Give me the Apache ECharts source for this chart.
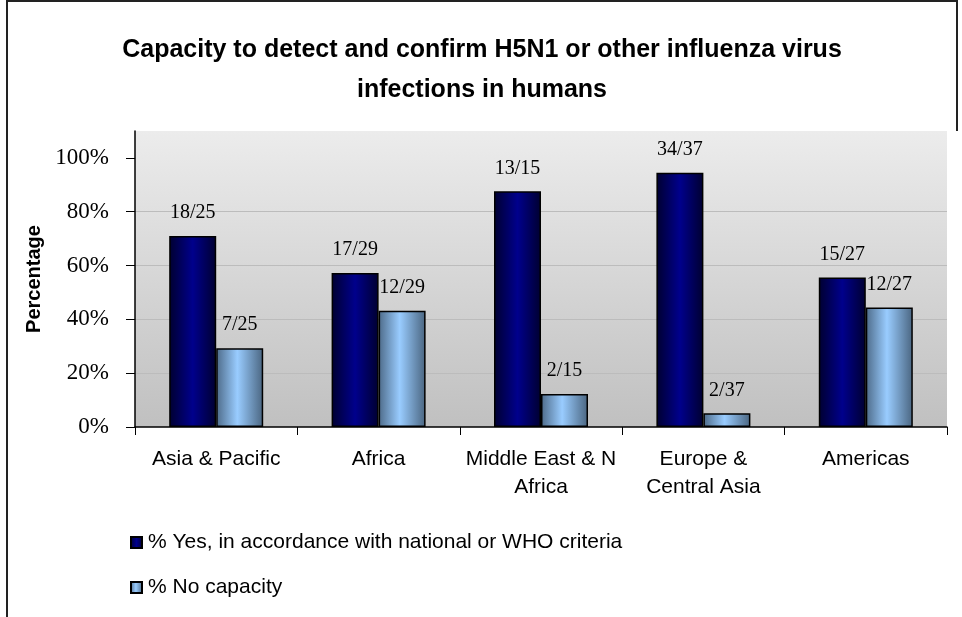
<!DOCTYPE html>
<html>
<head>
<meta charset="utf-8">
<script src="https://cdn.jsdelivr.net/npm/echarts@6/dist/echarts.min.js"></script>
<style>
  html, body { margin: 0; padding: 0; background: #fff; }
  #chart { width: 962px; height: 617px; }
</style>
</head>
<body>
<div id="chart"></div>
<script>
// regions on the x axis
const regions = ['Asia & Pacific', 'Africa', 'Middle East & N\nAfrica', 'Europe &\nCentral Asia', 'Americas']
// bar heights in percent
const yesValues = [71, 57.2, 87.6, 94.5, 55.6]
const noValues = [29.3, 43.2, 12.3, 5.1, 44.4]
// label text above each bar
const yesLabels = ['18/25', '17/29', '13/15', '34/37', '15/27']
const noLabels = ['7/25', '12/29', '2/15', '2/37', '12/27']
const yTicks = [0, 20, 40, 60, 80, 100]

const sans = 'Arial, "Liberation Sans", sans-serif'
const serif = '"Times New Roman", "Liberation Serif", serif'

const chart = echarts.init(document.getElementById('chart'))

const darkFill = new echarts.graphic.LinearGradient(0, 0, 1, 0, [
  { offset: 0, color: '#000030' },
  { offset: 0.5, color: '#00008c' },
  { offset: 1, color: '#000030' }
])
const lightFill = new echarts.graphic.LinearGradient(0, 0, 1, 0, [
  { offset: 0, color: '#4d6a88' },
  { offset: 0.45, color: '#99ccff' },
  { offset: 1, color: '#4a6580' }
])

const option = {
  backgroundColor: '#fff',
  animation: false,
  title: {
    text: 'Capacity to detect and confirm H5N1 or other influenza virus\ninfections in humans',
    left: 477,
    textAlign: 'center',
    top: 25,
    textStyle: {
      fontFamily: sans,
      fontWeight: 'bold',
      fontSize: 25,
      lineHeight: 40,
      color: '#000'
    }
  },
  legend: {
    orient: 'vertical',
    left: 125,
    top: 527,
    itemWidth: 11,
    itemHeight: 11,
    itemGap: 24,
    icon: 'rect',
    textStyle: { fontFamily: sans, fontSize: 21, color: '#000', padding: [0, 0, 0, 1] },
    data: ['% Yes, in accordance with national or WHO criteria', '% No capacity']
  },
  grid: {
    left: 135,
    right: 15,
    top: 131,
    bottom: 190,
    show: true,
    borderWidth: 0,
    backgroundColor: new echarts.graphic.LinearGradient(0, 0, 0, 1, [
      { offset: 0, color: '#ececec' },
      { offset: 1, color: '#c0c0c0' }
    ])
  },
  xAxis: {
    type: 'category',
    data: regions,
    axisLine: { lineStyle: { color: '#000', width: 1.5 } },
    axisTick: { show: true, interval: 0, length: 8, lineStyle: { color: '#000', width: 1 } },
    axisLabel: {
      interval: 0,
      fontFamily: sans,
      fontSize: 21,
      color: '#000',
      lineHeight: 28,
      margin: 18
    }
  },
  yAxis: {
    type: 'value',
    min: 0,
    max: 110,
    interval: 20,
    name: 'Percentage',
    nameLocation: 'middle',
    nameGap: 90,
    nameTextStyle: { fontFamily: sans, fontWeight: 'bold', fontSize: 20, color: '#000' },
    axisLine: { show: true, lineStyle: { color: '#000', width: 1.5 } },
    axisTick: { show: true, length: 9, customValues: yTicks, lineStyle: { color: '#000' } },
    axisLabel: {
      customValues: yTicks,
      formatter: '{value}%',
      fontFamily: serif,
      fontSize: 23,
      color: '#000',
      margin: 26
    },
    splitLine: { show: true, showMinLine: false, showMaxLine: false, lineStyle: { color: '#bcbcbc', width: 1 } }
  },
  series: [
    {
      name: '% Yes, in accordance with national or WHO criteria',
      type: 'bar',
      data: yesValues,
      barWidth: 47,
      barGap: '0%',
      itemStyle: { color: darkFill, borderColor: '#000', borderWidth: 1.5 },
      label: {
        show: true,
        position: 'top',
        distance: 13,
        fontFamily: serif,
        fontSize: 20,
        color: '#000',
        formatter: p => yesLabels[p.dataIndex]
      }
    },
    {
      name: '% No capacity',
      type: 'bar',
      data: noValues,
      barWidth: 47,
      itemStyle: { color: lightFill, borderColor: '#000', borderWidth: 1.5 },
      label: {
        show: true,
        position: 'top',
        distance: 13,
        fontFamily: serif,
        fontSize: 20,
        color: '#000',
        formatter: p => noLabels[p.dataIndex]
      }
    }
  ],
  graphic: [
    {
      type: 'polyline',
      shape: { points: [[7, 617], [7, 1], [957, 1], [957, 131]] },
      style: { stroke: '#222', lineWidth: 2, fill: null },
      silent: true
    }
  ]
}

chart.setOption(option)
</script>
</body>
</html>
